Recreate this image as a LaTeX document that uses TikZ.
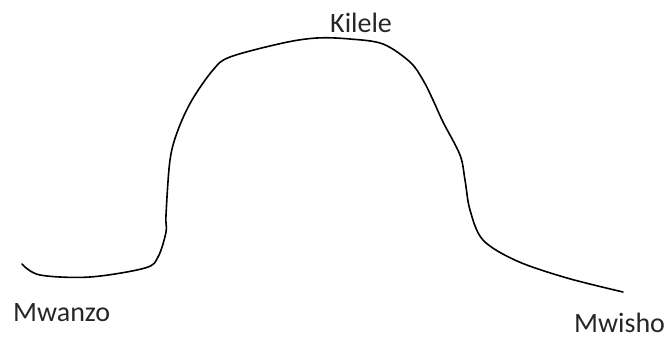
\documentclass[tikz,border=0pt]{standalone}
\usepackage{fontspec}
\setmainfont{Carlito}
\begin{document}
\begin{tikzpicture}[x=1pt,y=-1pt,
  lbl/.style={font=\fontsize{28}{32}\selectfont, inner sep=0pt, anchor=base west, text=black!85},
  curve/.style={line width=1.6pt, line join=round, line cap=round}]
\useasboundingbox (0,0) rectangle (671,339);
\draw[curve] plot[smooth, tension=0.55] coordinates {
 (22,264) (40,275) (90,277) (145,268) (158,257) (166,232) (166,215)
 (170,160) (178,130) (192,100) (213,70) (230,57) (283,43) (317,38)
 (350,39) (383,44) (410,62) (423,80) (433,100) (443,122)
 (460,155) (465,180) (470,210) (483,240) (517,261) (567,278) (623,292)};
\node[lbl] (kilele) at (330,33) {Kilele};
\node[lbl] (mwanzo) at (13,321) {Mwanzo};
\node[lbl] (mwisho) at (574,332) {Mwisho};
\end{tikzpicture}
\end{document}
